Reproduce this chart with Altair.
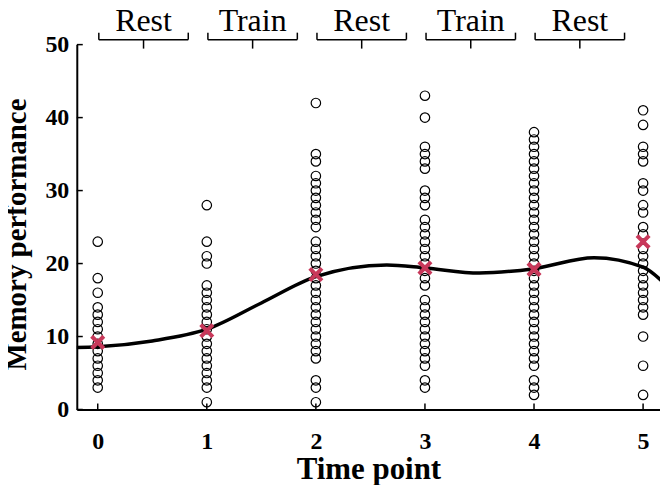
import altair as alt
import pandas as pd

# ---- data ----
time_points = [0, 1, 2, 3, 4, 5]
scores_t0 = [23, 18, 16, 14, 13, 12, 11, 10, 9, 8, 7, 6, 5, 4, 3]
scores_t1 = [28, 23, 21, 20, 17, 16, 15, 14, 13, 12, 11, 10, 9, 8, 7, 6, 5, 4, 3, 1]
scores_t2 = [42, 35, 34, 32, 31, 30, 29, 28, 27, 26, 25,
             23, 22, 21, 20, 19, 18, 17, 16, 15, 14, 13, 12, 11, 10, 9, 8, 7, 4, 3, 1]
scores_t3 = [43, 40, 36, 35, 34, 33, 30, 29, 28, 26, 25, 24, 23, 22, 21, 20, 19, 18, 17,
             15, 14, 13, 12, 11, 10, 9, 8, 7, 6, 4, 3]
scores_t4 = list(range(38, 5, -1)) + [4, 3, 2]
scores_t5 = [41, 39, 36, 35, 34, 31, 30, 28, 27, 25, 24, 22, 21, 20, 19, 18, 17, 16, 15, 14, 13, 10, 6, 2]
means = [9.2, 10.8, 18.5, 19.4, 19.2, 23.0]

curve_t = [-0.2, 0.0, 0.5, 1.0, 1.5, 2.0, 2.65, 3.0, 3.5, 4.0, 4.55, 5.0, 5.2]
curve_v = [8.5, 8.6, 9.4, 11.0, 14.6, 18.2, 19.8, 19.4, 18.7, 19.3, 20.8, 19.5, 17.2]

phases = ["Rest", "Train", "Rest", "Train", "Rest"]
phase_start = [0, 1, 2, 3, 4]

x_ticks = [0, 1, 2, 3, 4, 5]
y_ticks = [0, 10, 20, 30, 40, 50]

# ---- tables ----
all_scores = [scores_t0, scores_t1, scores_t2, scores_t3, scores_t4, scores_t5]
pts = pd.DataFrame(
    [{"t": t, "v": v} for t, col in zip(time_points, all_scores) for v in col]
)
mean_df = pd.DataFrame({"t": time_points, "v": means})
curve_df = pd.DataFrame({"t": curve_t, "v": curve_v})
phase_df = pd.DataFrame({"label": phases, "start": phase_start})
xt_df = pd.DataFrame({"t": x_ticks})
yt_df = pd.DataFrame({"v": y_ticks})

W, H = 585, 366
FONT = "Liberation Serif"

xs = alt.Scale(domain=[-0.192, 5.155], nice=False, zero=False)
ys = alt.Scale(domain=[0, 50], nice=False)

x_axis = alt.Axis(values=x_ticks, ticks=False, grid=False, labelFontSize=24,
                  labelFont=FONT, labelFontWeight="bold", labelPadding=20,
                  labelColor="black", title="Time point", titleFont=FONT,
                  titleFontSize=31, titleFontWeight="bold", titleColor="black",
                  titleY=69, titleBaseline="alphabetic",
                  domainColor="black", domainWidth=2, format="d")
y_axis = alt.Axis(values=y_ticks, ticks=False, grid=False, labelFontSize=24,
                  labelFont=FONT, labelFontWeight="bold", labelPadding=8,
                  labelColor="black", title="Memory performance", titleFont=FONT,
                  titleFontSize=29, titleFontWeight="bold", titleColor="black",
                  titleX=-51, titleY=190, titleBaseline="alphabetic",
                  domainColor="black", domainWidth=2, format="d")

points = alt.Chart(pts).mark_point(
    shape="circle", filled=False, size=90, color="black", strokeWidth=1.2, opacity=1
).encode(
    x=alt.X("t:Q", scale=xs, axis=x_axis),
    y=alt.Y("v:Q", scale=ys, axis=y_axis),
)

curve = alt.Chart(curve_df).mark_line(
    color="black", strokeWidth=3.5, interpolate="monotone", clip=True
).encode(x=alt.X("t:Q", scale=xs), y=alt.Y("v:Q", scale=ys))

mean_marks = alt.Chart(mean_df).mark_point(
    shape="M-1,-1L1,1M-1,1L1,-1", filled=False, size=150, color="#c8385a",
    strokeWidth=4, opacity=1
).encode(x=alt.X("t:Q", scale=xs), y=alt.Y("v:Q", scale=ys))

x_tick_rules = alt.Chart(xt_df).mark_rule(color="black", strokeWidth=1.5).encode(
    x=alt.X("t:Q", scale=xs), y=alt.value(H), y2=alt.value(H - 6)
)
y_tick_rules = alt.Chart(yt_df).mark_rule(color="black", strokeWidth=1.5).encode(
    y=alt.Y("v:Q", scale=ys), x=alt.value(0), x2=alt.value(6)
)

ph = alt.Chart(phase_df).transform_calculate(
    a="datum.start + 0.01", b="datum.start + 0.83", m="datum.start + 0.42"
)
br_line = ph.mark_rule(color="black", strokeWidth=1.5, clip=False).encode(
    x=alt.X("a:Q", scale=xs), x2="b:Q", y=alt.value(-5)
)
br_left = ph.mark_rule(color="black", strokeWidth=1.5, clip=False).encode(
    x=alt.X("a:Q", scale=xs), y=alt.value(-5), y2=alt.value(-12)
)
br_right = ph.mark_rule(color="black", strokeWidth=1.5, clip=False).encode(
    x=alt.X("b:Q", scale=xs), y=alt.value(-5), y2=alt.value(-12)
)
br_mid = ph.mark_rule(color="black", strokeWidth=1.5, clip=False).encode(
    x=alt.X("m:Q", scale=xs), y=alt.value(-5), y2=alt.value(4)
)
br_text = ph.mark_text(font=FONT, fontSize=32, color="black", baseline="alphabetic",
                       align="center", clip=False).encode(
    x=alt.X("m:Q", scale=xs), y=alt.value(-14), text="label:N"
)

chart = alt.layer(
    points, curve, mean_marks, x_tick_rules, y_tick_rules,
    br_line, br_left, br_right, br_mid, br_text
).properties(
    width=W, height=H,
    autosize=alt.AutoSizeParams(type="none"),
    padding={"left": 69, "top": 36, "right": 0, "bottom": 75},
    background="white",
).configure_view(stroke=None)

chart.save("out.html", embed_options={"renderer": "svg", "actions": False})
